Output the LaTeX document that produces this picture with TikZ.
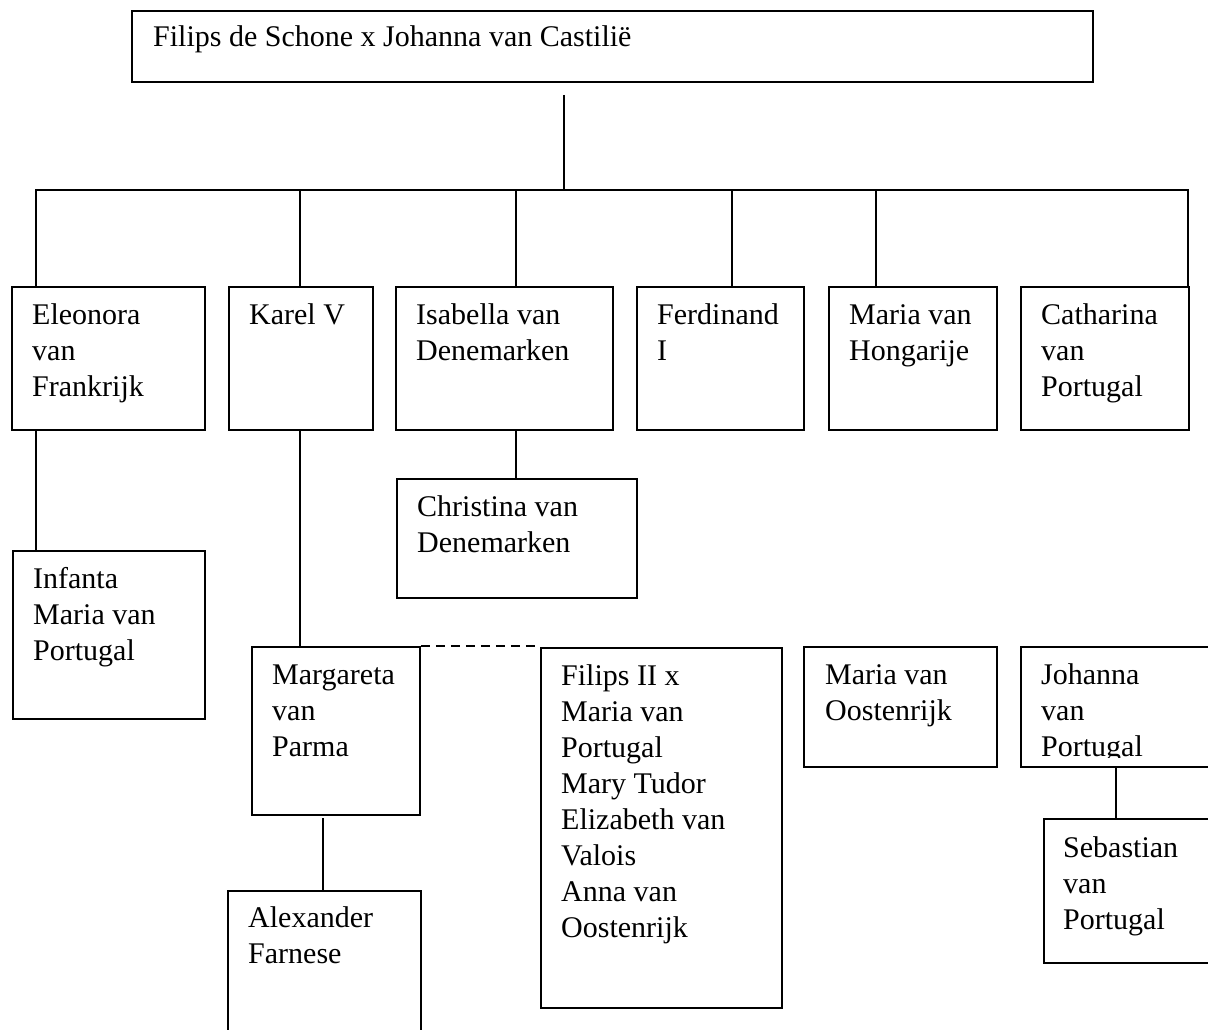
\documentclass[tikz,border=0pt]{standalone}
\usepackage{fontspec}
\setmainfont{Liberation Serif}
\usetikzlibrary{calc}
\begin{document}
\begin{tikzpicture}[x=1pt,y=-1pt,
  box/.style={draw=black, line width=1.9pt, rectangle, inner sep=0pt, anchor=north west},
  lbl/.style={anchor=base west, inner sep=0pt, font=\fontsize{30}{36}\selectfont},
  link/.style={draw=black, line width=1.9pt},
  marriage/.style={link, dash pattern=on 9pt off 6pt}]
\useasboundingbox (0,0) rectangle (1208,1030);
\clip (0,0) rectangle (1208,1030);
% boxes
\node[box, minimum width=961pt, minimum height=71pt] (parents) at (131,10) {};
\node[box, minimum width=193pt, minimum height=143pt] (eleonora) at (11,286) {};
\node[box, minimum width=144pt, minimum height=143pt] (karel) at (228,286) {};
\node[box, minimum width=217pt, minimum height=143pt] (isabella) at (395,286) {};
\node[box, minimum width=167pt, minimum height=143pt] (ferdinand) at (636,286) {};
\node[box, minimum width=168pt, minimum height=143pt] (mariah) at (828,286) {};
\node[box, minimum width=168pt, minimum height=143pt] (catharina) at (1020,286) {};
\node[box, minimum width=240pt, minimum height=119pt] (christina) at (396,478) {};
\node[box, minimum width=192pt, minimum height=168pt] (infanta) at (12,550) {};
\node[box, minimum width=168pt, minimum height=168pt] (margareta) at (251,646) {};
\node[box, minimum width=241pt, minimum height=360pt] (filips) at (540,647) {};
\node[box, minimum width=193pt, minimum height=120pt] (mariao) at (803,646) {};
\node[box, minimum width=220pt, minimum height=120pt] (johanna) at (1020,646) {};
\node[box, minimum width=200pt, minimum height=144pt] (sebastian) at (1043,818) {};
\node[box, minimum width=193pt, minimum height=180pt] (alexander) at (227,890) {};
% labels
\node[lbl] (tparents) at ($(parents.north west)+(22,37)$) {Filips de Schone x Johanna van Castilië};
\node[lbl] (televonora) at ($(eleonora.north west)+(21,38)$) {\begin{tabular}[t]{@{}l@{}}Eleonora\\van\\Frankrijk\end{tabular}};
\node[lbl] (tkarel) at ($(karel.north west)+(21,38)$) {Karel V};
\node[lbl] (tisabella) at ($(isabella.north west)+(21,38)$) {\begin{tabular}[t]{@{}l@{}}Isabella van\\Denemarken\end{tabular}};
\node[lbl] (tferdinand) at ($(ferdinand.north west)+(21,38)$) {\begin{tabular}[t]{@{}l@{}}Ferdinand\\I\end{tabular}};
\node[lbl] (tmariah) at ($(mariah.north west)+(21,38)$) {\begin{tabular}[t]{@{}l@{}}Maria van\\Hongarije\end{tabular}};
\node[lbl] (tcatharina) at ($(catharina.north west)+(21,38)$) {\begin{tabular}[t]{@{}l@{}}Catharina\\van\\Portugal\end{tabular}};
\node[lbl] (tchristina) at ($(christina.north west)+(21,38)$) {\begin{tabular}[t]{@{}l@{}}Christina van\\Denemarken\end{tabular}};
\node[lbl] (tinfanta) at ($(infanta.north west)+(21,38)$) {\begin{tabular}[t]{@{}l@{}}Infanta\\Maria van\\Portugal\end{tabular}};
\node[lbl] (tmargareta) at ($(margareta.north west)+(21,38)$) {\begin{tabular}[t]{@{}l@{}}Margareta\\van\\Parma\end{tabular}};
\node[lbl] (tfilips) at ($(filips.north west)+(21,38)$) {\begin{tabular}[t]{@{}l@{}}Filips II x\\Maria van\\Portugal\\Mary Tudor\\Elizabeth van\\Valois\\Anna van\\Oostenrijk\end{tabular}};
\node[lbl] (tmariao) at ($(mariao.north west)+(22,38)$) {\begin{tabular}[t]{@{}l@{}}Maria van\\Oostenrijk\end{tabular}};
\begin{scope}
\clip (1020,646) rectangle (1208,757);
\node[lbl] (tjohanna) at ($(johanna.north west)+(21,38)$) {\begin{tabular}[t]{@{}l@{}}Johanna\\van\\Portugal\end{tabular}};
\end{scope}
\node[lbl] (tsebastian) at ($(sebastian.north west)+(20,39)$) {\begin{tabular}[t]{@{}l@{}}Sebastian\\van\\Portugal\end{tabular}};
\node[lbl] (talexander) at ($(alexander.north west)+(21,37)$) {\begin{tabular}[t]{@{}l@{}}Alexander\\Farnese\end{tabular}};
% bus
\coordinate (stem) at (564,95);
\coordinate (busL) at (36,190);
\coordinate (busR) at (1188,190);
\coordinate (bK) at (300,190);
\coordinate (bI) at (516,190);
\coordinate (bF) at (732,190);
\coordinate (bM) at (876,190);
\draw[link] (stem) -- (stem |- busL);
\draw[link] (busL |- eleonora.north) -- (busL) -- (busR) -- (busR |- catharina.north);
\draw[link] (bK) -- (bK |- karel.north);
\draw[link] (bI) -- (bI |- isabella.north);
\draw[link] (bF) -- (bF |- ferdinand.north);
\draw[link] (bM) -- (bM |- mariah.north);
% descendants
\draw[link] (busL |- eleonora.south) -- (busL |- infanta.north);
\draw[link] (bK |- karel.south) -- (bK |- margareta.north);
\draw[link] (bI |- isabella.south) -- (bI |- christina.north);
\coordinate (mS) at (323,818);
\draw[link] (mS) -- (mS |- alexander.north);
\coordinate (jS) at (1116,766);
\draw[link] (jS) -- (jS |- sebastian.north);
\draw[marriage] (margareta.north east) -- (margareta.north east -| filips.north west);
\end{tikzpicture}
\end{document}
